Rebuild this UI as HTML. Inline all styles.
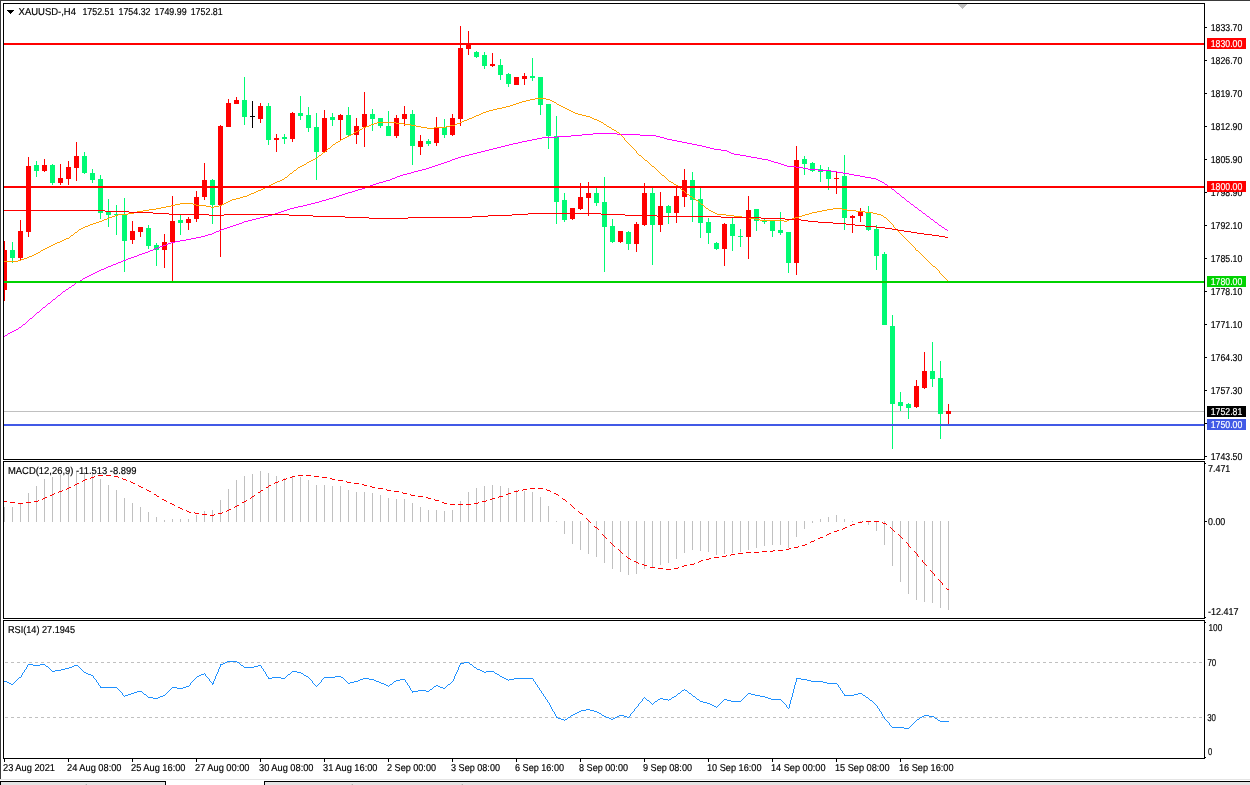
<!DOCTYPE html>
<html lang="en"><head><meta charset="utf-8"><title>XAUUSD-,H4</title>
<style>html,body{margin:0;padding:0;background:#fff;overflow:hidden}svg{display:block}text{font-family:"Liberation Sans",sans-serif;font-size:10px;fill:#000;text-rendering:geometricPrecision;stroke:#000;stroke-width:.18px}.w{stroke:#fff}.w{fill:#fff}.ce{shape-rendering:crispEdges}</style></head><body>
<svg width="1250" height="785" viewBox="0 0 1250 785">
<rect width="1250" height="785" fill="#fff"/>
<g class="ce">
<rect x="0" y="0" width="1250" height="1" fill="#3a3a3a"/>
<rect x="0" y="0" width="1" height="779" fill="#3a3a3a"/>
<rect x="0" y="779" width="1250" height="1" fill="#e4e4e4"/>
<rect x="0" y="780" width="1250" height="1" fill="#fff"/>
<rect x="0" y="781" width="1250" height="1" fill="#000"/>
<rect x="0" y="782" width="1250" height="3" fill="#e4e4e4"/>
<rect x="166" y="781" width="98" height="4" fill="#fff"/>
<rect x="165" y="781" width="1" height="4" fill="#000"/>
<rect x="264" y="781" width="1" height="4" fill="#000"/>
<rect x="0" y="781" width="1" height="4" fill="#000"/>
</g>
<defs><clipPath id="cm"><rect x="4" y="4" width="1200" height="455"/></clipPath><clipPath id="c98"><rect x="1205" y="192" width="45" height="10"/></clipPath></defs>
<g class="ce" clip-path="url(#cm)">
<rect x="4" y="411" width="1200" height="1" fill="#c0c0c0"/>
<rect x="4" y="241" width="1" height="60" fill="#ff0000"/>
<rect x="2" y="250" width="5" height="40" fill="#ff0000"/>
<rect x="12" y="242" width="1" height="21" fill="#00fa73"/>
<rect x="10" y="250" width="5" height="8" fill="#00fa73"/>
<rect x="20" y="220" width="1" height="40" fill="#ff0000"/>
<rect x="18" y="231" width="5" height="27" fill="#ff0000"/>
<rect x="28" y="157" width="1" height="80" fill="#ff0000"/>
<rect x="26" y="166" width="5" height="66" fill="#ff0000"/>
<rect x="36" y="161" width="1" height="16" fill="#00fa73"/>
<rect x="34" y="165" width="5" height="6" fill="#00fa73"/>
<rect x="44" y="159" width="1" height="13" fill="#ff0000"/>
<rect x="42" y="165" width="5" height="6" fill="#ff0000"/>
<rect x="52" y="164" width="1" height="21" fill="#00fa73"/>
<rect x="50" y="165" width="5" height="18" fill="#00fa73"/>
<rect x="60" y="164" width="1" height="21" fill="#ff0000"/>
<rect x="58" y="178" width="5" height="5" fill="#ff0000"/>
<rect x="68" y="161" width="1" height="24" fill="#ff0000"/>
<rect x="66" y="167" width="5" height="12" fill="#ff0000"/>
<rect x="76" y="142" width="1" height="39" fill="#ff0000"/>
<rect x="74" y="156" width="5" height="12" fill="#ff0000"/>
<rect x="84" y="152" width="1" height="22" fill="#00fa73"/>
<rect x="82" y="156" width="5" height="17" fill="#00fa73"/>
<rect x="92" y="169" width="1" height="14" fill="#00fa73"/>
<rect x="90" y="173" width="5" height="7" fill="#00fa73"/>
<rect x="100" y="175" width="1" height="44" fill="#00fa73"/>
<rect x="98" y="179" width="5" height="34" fill="#00fa73"/>
<rect x="108" y="199" width="1" height="28" fill="#00fa73"/>
<rect x="106" y="212" width="5" height="3" fill="#00fa73"/>
<rect x="116" y="205" width="1" height="30" fill="#00fa73"/>
<rect x="114" y="214" width="5" height="1" fill="#00fa73"/>
<rect x="124" y="198" width="1" height="74" fill="#00fa73"/>
<rect x="122" y="215" width="5" height="26" fill="#00fa73"/>
<rect x="132" y="221" width="1" height="23" fill="#ff0000"/>
<rect x="130" y="231" width="5" height="9" fill="#ff0000"/>
<rect x="140" y="227" width="1" height="10" fill="#ff0000"/>
<rect x="138" y="227" width="5" height="5" fill="#ff0000"/>
<rect x="148" y="225" width="1" height="24" fill="#00fa73"/>
<rect x="146" y="228" width="5" height="18" fill="#00fa73"/>
<rect x="156" y="243" width="1" height="23" fill="#00fa73"/>
<rect x="154" y="245" width="5" height="5" fill="#00fa73"/>
<rect x="164" y="234" width="1" height="34" fill="#ff0000"/>
<rect x="162" y="242" width="5" height="8" fill="#ff0000"/>
<rect x="172" y="196" width="1" height="85" fill="#ff0000"/>
<rect x="170" y="221" width="5" height="21" fill="#ff0000"/>
<rect x="180" y="215" width="1" height="20" fill="#00fa73"/>
<rect x="178" y="220" width="5" height="3" fill="#00fa73"/>
<rect x="188" y="217" width="1" height="13" fill="#ff0000"/>
<rect x="186" y="219" width="5" height="4" fill="#ff0000"/>
<rect x="196" y="191" width="1" height="31" fill="#ff0000"/>
<rect x="194" y="197" width="5" height="22" fill="#ff0000"/>
<rect x="204" y="163" width="1" height="37" fill="#ff0000"/>
<rect x="202" y="180" width="5" height="17" fill="#ff0000"/>
<rect x="212" y="179" width="1" height="45" fill="#00fa73"/>
<rect x="210" y="180" width="5" height="25" fill="#00fa73"/>
<rect x="220" y="125" width="1" height="132" fill="#ff0000"/>
<rect x="218" y="126" width="5" height="79" fill="#ff0000"/>
<rect x="228" y="99" width="1" height="28" fill="#ff0000"/>
<rect x="226" y="103" width="5" height="24" fill="#ff0000"/>
<rect x="236" y="97" width="1" height="7" fill="#ff0000"/>
<rect x="234" y="100" width="5" height="4" fill="#ff0000"/>
<rect x="244" y="77" width="1" height="48" fill="#00fa73"/>
<rect x="242" y="100" width="5" height="17" fill="#00fa73"/>
<rect x="252" y="101" width="1" height="27" fill="#000"/>
<rect x="250" y="116" width="5" height="1" fill="#000"/>
<rect x="260" y="103" width="1" height="20" fill="#ff0000"/>
<rect x="258" y="106" width="5" height="13" fill="#ff0000"/>
<rect x="268" y="103" width="1" height="42" fill="#00fa73"/>
<rect x="266" y="106" width="5" height="34" fill="#00fa73"/>
<rect x="276" y="134" width="1" height="18" fill="#ff0000"/>
<rect x="274" y="138" width="5" height="2" fill="#ff0000"/>
<rect x="284" y="134" width="1" height="10" fill="#00fa73"/>
<rect x="282" y="137" width="5" height="2" fill="#00fa73"/>
<rect x="292" y="112" width="1" height="30" fill="#ff0000"/>
<rect x="290" y="113" width="5" height="26" fill="#ff0000"/>
<rect x="300" y="96" width="1" height="24" fill="#00fa73"/>
<rect x="298" y="113" width="5" height="3" fill="#00fa73"/>
<rect x="308" y="107" width="1" height="25" fill="#00fa73"/>
<rect x="306" y="115" width="5" height="13" fill="#00fa73"/>
<rect x="316" y="113" width="1" height="67" fill="#00fa73"/>
<rect x="314" y="127" width="5" height="25" fill="#00fa73"/>
<rect x="324" y="110" width="1" height="42" fill="#ff0000"/>
<rect x="322" y="118" width="5" height="34" fill="#ff0000"/>
<rect x="332" y="113" width="1" height="13" fill="#00fa73"/>
<rect x="330" y="117" width="5" height="3" fill="#00fa73"/>
<rect x="340" y="114" width="1" height="26" fill="#ff0000"/>
<rect x="338" y="115" width="5" height="5" fill="#ff0000"/>
<rect x="348" y="107" width="1" height="29" fill="#00fa73"/>
<rect x="346" y="115" width="5" height="20" fill="#00fa73"/>
<rect x="356" y="118" width="1" height="26" fill="#ff0000"/>
<rect x="354" y="126" width="5" height="9" fill="#ff0000"/>
<rect x="364" y="92" width="1" height="55" fill="#ff0000"/>
<rect x="362" y="114" width="5" height="13" fill="#ff0000"/>
<rect x="372" y="109" width="1" height="22" fill="#00fa73"/>
<rect x="370" y="114" width="5" height="5" fill="#00fa73"/>
<rect x="380" y="118" width="1" height="10" fill="#00fa73"/>
<rect x="378" y="118" width="5" height="8" fill="#00fa73"/>
<rect x="388" y="111" width="1" height="25" fill="#00fa73"/>
<rect x="386" y="126" width="5" height="10" fill="#00fa73"/>
<rect x="396" y="115" width="1" height="23" fill="#ff0000"/>
<rect x="394" y="118" width="5" height="18" fill="#ff0000"/>
<rect x="404" y="106" width="1" height="20" fill="#ff0000"/>
<rect x="402" y="114" width="5" height="5" fill="#ff0000"/>
<rect x="412" y="110" width="1" height="55" fill="#00fa73"/>
<rect x="410" y="114" width="5" height="32" fill="#00fa73"/>
<rect x="420" y="135" width="1" height="20" fill="#ff0000"/>
<rect x="418" y="141" width="5" height="6" fill="#ff0000"/>
<rect x="428" y="139" width="1" height="7" fill="#00fa73"/>
<rect x="426" y="141" width="5" height="3" fill="#00fa73"/>
<rect x="436" y="117" width="1" height="29" fill="#ff0000"/>
<rect x="434" y="127" width="5" height="16" fill="#ff0000"/>
<rect x="444" y="119" width="1" height="19" fill="#00fa73"/>
<rect x="442" y="127" width="5" height="8" fill="#00fa73"/>
<rect x="452" y="114" width="1" height="22" fill="#ff0000"/>
<rect x="450" y="118" width="5" height="17" fill="#ff0000"/>
<rect x="460" y="26" width="1" height="100" fill="#ff0000"/>
<rect x="458" y="48" width="5" height="71" fill="#ff0000"/>
<rect x="468" y="31" width="1" height="24" fill="#ff0000"/>
<rect x="466" y="44" width="5" height="5" fill="#ff0000"/>
<rect x="476" y="51" width="1" height="7" fill="#00fa73"/>
<rect x="474" y="52" width="5" height="5" fill="#00fa73"/>
<rect x="484" y="52" width="1" height="17" fill="#00fa73"/>
<rect x="482" y="55" width="5" height="11" fill="#00fa73"/>
<rect x="492" y="53" width="1" height="14" fill="#ff0000"/>
<rect x="490" y="64" width="5" height="2" fill="#ff0000"/>
<rect x="500" y="59" width="1" height="21" fill="#00fa73"/>
<rect x="498" y="65" width="5" height="10" fill="#00fa73"/>
<rect x="508" y="73" width="1" height="14" fill="#00fa73"/>
<rect x="506" y="74" width="5" height="10" fill="#00fa73"/>
<rect x="516" y="77" width="1" height="8" fill="#ff0000"/>
<rect x="514" y="77" width="5" height="8" fill="#ff0000"/>
<rect x="524" y="73" width="1" height="12" fill="#ff0000"/>
<rect x="522" y="76" width="5" height="3" fill="#ff0000"/>
<rect x="532" y="58" width="1" height="23" fill="#00fa73"/>
<rect x="530" y="76" width="5" height="2" fill="#00fa73"/>
<rect x="540" y="77" width="1" height="38" fill="#00fa73"/>
<rect x="538" y="77" width="5" height="28" fill="#00fa73"/>
<rect x="548" y="104" width="1" height="45" fill="#00fa73"/>
<rect x="546" y="104" width="5" height="32" fill="#00fa73"/>
<rect x="556" y="116" width="1" height="108" fill="#00fa73"/>
<rect x="554" y="136" width="5" height="66" fill="#00fa73"/>
<rect x="564" y="193" width="1" height="29" fill="#00fa73"/>
<rect x="562" y="200" width="5" height="20" fill="#00fa73"/>
<rect x="572" y="208" width="1" height="12" fill="#ff0000"/>
<rect x="570" y="208" width="5" height="11" fill="#ff0000"/>
<rect x="580" y="183" width="1" height="27" fill="#ff0000"/>
<rect x="578" y="197" width="5" height="12" fill="#ff0000"/>
<rect x="588" y="182" width="1" height="34" fill="#ff0000"/>
<rect x="586" y="193" width="5" height="5" fill="#ff0000"/>
<rect x="596" y="188" width="1" height="18" fill="#00fa73"/>
<rect x="594" y="193" width="5" height="10" fill="#00fa73"/>
<rect x="604" y="177" width="1" height="95" fill="#00fa73"/>
<rect x="602" y="202" width="5" height="25" fill="#00fa73"/>
<rect x="612" y="219" width="1" height="24" fill="#00fa73"/>
<rect x="610" y="226" width="5" height="16" fill="#00fa73"/>
<rect x="620" y="231" width="1" height="12" fill="#ff0000"/>
<rect x="618" y="231" width="5" height="11" fill="#ff0000"/>
<rect x="628" y="231" width="1" height="19" fill="#00fa73"/>
<rect x="626" y="232" width="5" height="12" fill="#00fa73"/>
<rect x="636" y="222" width="1" height="30" fill="#ff0000"/>
<rect x="634" y="224" width="5" height="20" fill="#ff0000"/>
<rect x="644" y="183" width="1" height="43" fill="#ff0000"/>
<rect x="642" y="193" width="5" height="32" fill="#ff0000"/>
<rect x="652" y="188" width="1" height="77" fill="#00fa73"/>
<rect x="650" y="193" width="5" height="32" fill="#00fa73"/>
<rect x="660" y="192" width="1" height="40" fill="#ff0000"/>
<rect x="658" y="206" width="5" height="19" fill="#ff0000"/>
<rect x="668" y="205" width="1" height="19" fill="#00fa73"/>
<rect x="666" y="206" width="5" height="7" fill="#00fa73"/>
<rect x="676" y="186" width="1" height="37" fill="#ff0000"/>
<rect x="674" y="196" width="5" height="17" fill="#ff0000"/>
<rect x="684" y="169" width="1" height="38" fill="#ff0000"/>
<rect x="682" y="180" width="5" height="17" fill="#ff0000"/>
<rect x="692" y="172" width="1" height="50" fill="#00fa73"/>
<rect x="690" y="180" width="5" height="20" fill="#00fa73"/>
<rect x="700" y="188" width="1" height="50" fill="#00fa73"/>
<rect x="698" y="199" width="5" height="24" fill="#00fa73"/>
<rect x="708" y="218" width="1" height="26" fill="#00fa73"/>
<rect x="706" y="222" width="5" height="11" fill="#00fa73"/>
<rect x="716" y="242" width="1" height="8" fill="#00fa73"/>
<rect x="714" y="243" width="5" height="6" fill="#00fa73"/>
<rect x="724" y="223" width="1" height="43" fill="#ff0000"/>
<rect x="722" y="224" width="5" height="25" fill="#ff0000"/>
<rect x="732" y="218" width="1" height="33" fill="#00fa73"/>
<rect x="730" y="224" width="5" height="12" fill="#00fa73"/>
<rect x="740" y="229" width="1" height="18" fill="#00fa73"/>
<rect x="738" y="236" width="5" height="1" fill="#00fa73"/>
<rect x="748" y="196" width="1" height="63" fill="#ff0000"/>
<rect x="746" y="210" width="5" height="27" fill="#ff0000"/>
<rect x="756" y="209" width="1" height="22" fill="#00fa73"/>
<rect x="754" y="209" width="5" height="12" fill="#00fa73"/>
<rect x="764" y="218" width="1" height="6" fill="#00fa73"/>
<rect x="762" y="220" width="5" height="2" fill="#00fa73"/>
<rect x="772" y="220" width="1" height="17" fill="#00fa73"/>
<rect x="770" y="220" width="5" height="11" fill="#00fa73"/>
<rect x="780" y="212" width="1" height="23" fill="#00fa73"/>
<rect x="778" y="230" width="5" height="3" fill="#00fa73"/>
<rect x="788" y="232" width="1" height="41" fill="#00fa73"/>
<rect x="786" y="232" width="5" height="31" fill="#00fa73"/>
<rect x="796" y="146" width="1" height="129" fill="#ff0000"/>
<rect x="794" y="160" width="5" height="103" fill="#ff0000"/>
<rect x="804" y="156" width="1" height="19" fill="#00fa73"/>
<rect x="802" y="159" width="5" height="5" fill="#00fa73"/>
<rect x="812" y="162" width="1" height="10" fill="#00fa73"/>
<rect x="810" y="163" width="5" height="8" fill="#00fa73"/>
<rect x="820" y="165" width="1" height="17" fill="#00fa73"/>
<rect x="818" y="169" width="5" height="3" fill="#00fa73"/>
<rect x="828" y="167" width="1" height="23" fill="#00fa73"/>
<rect x="826" y="171" width="5" height="8" fill="#00fa73"/>
<rect x="836" y="172" width="1" height="22" fill="#ff0000"/>
<rect x="834" y="178" width="5" height="1" fill="#ff0000"/>
<rect x="844" y="155" width="1" height="75" fill="#00fa73"/>
<rect x="842" y="176" width="5" height="42" fill="#00fa73"/>
<rect x="852" y="215" width="1" height="18" fill="#ff0000"/>
<rect x="850" y="216" width="5" height="2" fill="#ff0000"/>
<rect x="860" y="208" width="1" height="14" fill="#ff0000"/>
<rect x="858" y="212" width="5" height="4" fill="#ff0000"/>
<rect x="868" y="206" width="1" height="25" fill="#00fa73"/>
<rect x="866" y="212" width="5" height="18" fill="#00fa73"/>
<rect x="876" y="225" width="1" height="45" fill="#00fa73"/>
<rect x="874" y="229" width="5" height="27" fill="#00fa73"/>
<rect x="884" y="252" width="1" height="73" fill="#00fa73"/>
<rect x="882" y="254" width="5" height="71" fill="#00fa73"/>
<rect x="892" y="315" width="1" height="134" fill="#00fa73"/>
<rect x="890" y="326" width="5" height="78" fill="#00fa73"/>
<rect x="900" y="392" width="1" height="19" fill="#00fa73"/>
<rect x="898" y="402" width="5" height="4" fill="#00fa73"/>
<rect x="908" y="403" width="1" height="16" fill="#00fa73"/>
<rect x="906" y="404" width="5" height="4" fill="#00fa73"/>
<rect x="916" y="380" width="1" height="28" fill="#ff0000"/>
<rect x="914" y="386" width="5" height="21" fill="#ff0000"/>
<rect x="924" y="352" width="1" height="37" fill="#ff0000"/>
<rect x="922" y="371" width="5" height="17" fill="#ff0000"/>
<rect x="932" y="342" width="1" height="45" fill="#00fa73"/>
<rect x="930" y="371" width="5" height="8" fill="#00fa73"/>
<rect x="940" y="361" width="1" height="78" fill="#00fa73"/>
<rect x="938" y="378" width="5" height="36" fill="#00fa73"/>
<rect x="948" y="404" width="1" height="20" fill="#ff0000"/>
<rect x="946" y="411" width="5" height="3" fill="#ff0000"/>
</g>
<g clip-path="url(#cm)" shape-rendering="crispEdges">
<path d="M4 336h1v1h-1zM5 335h2v1h-2zM7 334h1v1h-1zM8 333h2v1h-2zM10 332h2v1h-2zM12 331h2v1h-2zM14 330h2v1h-2zM16 329h2v1h-2zM18 328h1v1h-1zM19 327h2v1h-2zM21 326h1v1h-1zM22 325h1v1h-1zM23 324h2v1h-2zM25 323h1v1h-1zM26 322h1v1h-1zM27 321h1v1h-1zM28 320h1v1h-1zM29 319h1v1h-1zM30 318h2v1h-2zM32 317h1v1h-1zM33 316h1v1h-1zM34 315h1v1h-1zM35 314h1v1h-1zM36 313h1v1h-1zM37 312h2v1h-2zM39 311h1v1h-1zM40 310h1v1h-1zM41 309h1v1h-1zM42 308h1v1h-1zM43 307h2v1h-2zM45 306h1v1h-1zM46 305h1v1h-1zM47 304h1v1h-1zM48 303h2v1h-2zM50 302h1v1h-1zM51 301h1v1h-1zM52 300h1v1h-1zM53 299h2v1h-2zM55 298h1v1h-1zM56 297h1v1h-1zM57 296h1v1h-1zM58 295h2v1h-2zM60 294h1v1h-1zM61 293h1v1h-1zM62 292h1v1h-1zM63 291h2v1h-2zM65 290h1v1h-1zM66 289h2v1h-2zM68 288h1v1h-1zM69 287h2v1h-2zM71 286h1v1h-1zM72 285h2v1h-2zM74 284h1v1h-1zM75 283h1v1h-1zM76 282h2v1h-2zM78 281h2v1h-2zM80 280h2v1h-2zM82 279h1v1h-1zM83 278h2v1h-2zM85 277h2v1h-2zM87 276h2v1h-2zM89 275h2v1h-2zM91 274h2v1h-2zM93 273h2v1h-2zM95 272h2v1h-2zM97 271h2v1h-2zM99 270h2v1h-2zM101 269h3v1h-3zM104 268h2v1h-2zM106 267h2v1h-2zM108 266h3v1h-3zM111 265h2v1h-2zM113 264h3v1h-3zM116 263h2v1h-2zM118 262h3v1h-3zM121 261h2v1h-2zM123 260h3v1h-3zM126 259h2v1h-2zM128 258h3v1h-3zM131 257h3v1h-3zM134 256h3v1h-3zM137 255h2v1h-2zM139 254h3v1h-3zM142 253h3v1h-3zM145 252h3v1h-3zM148 251h2v1h-2zM150 250h3v1h-3zM153 249h2v1h-2zM155 248h3v1h-3zM158 247h2v1h-2zM160 246h3v1h-3zM163 245h3v1h-3zM166 244h2v1h-2zM168 243h3v1h-3zM171 242h4v1h-4zM175 241h5v1h-5zM180 240h6v1h-6zM186 239h5v1h-5zM191 238h5v1h-5zM196 237h5v1h-5zM201 236h4v1h-4zM205 235h3v1h-3zM208 234h4v1h-4zM212 233h2v1h-2zM214 232h2v1h-2zM216 231h3v1h-3zM219 230h2v1h-2zM221 229h3v1h-3zM224 228h3v1h-3zM227 227h3v1h-3zM230 226h3v1h-3zM233 225h3v1h-3zM236 224h3v1h-3zM239 223h3v1h-3zM242 222h2v1h-2zM244 221h4v1h-4zM248 220h4v1h-4zM252 219h4v1h-4zM256 218h4v1h-4zM260 217h4v1h-4zM264 216h4v1h-4zM268 215h4v1h-4zM272 214h3v1h-3zM275 213h3v1h-3zM278 212h3v1h-3zM281 211h3v1h-3zM284 210h3v1h-3zM287 209h3v1h-3zM290 208h4v1h-4zM294 207h4v1h-4zM298 206h5v1h-5zM303 205h4v1h-4zM307 204h4v1h-4zM311 203h4v1h-4zM315 202h4v1h-4zM319 201h3v1h-3zM322 200h4v1h-4zM326 199h3v1h-3zM329 198h4v1h-4zM333 197h3v1h-3zM336 196h3v1h-3zM339 195h3v1h-3zM342 194h3v1h-3zM345 193h3v1h-3zM348 192h4v1h-4zM352 191h3v1h-3zM355 190h3v1h-3zM358 189h4v1h-4zM362 188h3v1h-3zM365 187h3v1h-3zM368 186h2v1h-2zM370 185h3v1h-3zM373 184h3v1h-3zM376 183h3v1h-3zM379 182h4v1h-4zM383 181h3v1h-3zM386 180h4v1h-4zM390 179h2v1h-2zM392 178h3v1h-3zM395 177h2v1h-2zM397 176h3v1h-3zM400 175h3v1h-3zM403 174h4v1h-4zM407 173h4v1h-4zM411 172h3v1h-3zM414 171h4v1h-4zM418 170h4v1h-4zM422 169h4v1h-4zM426 168h3v1h-3zM429 167h3v1h-3zM432 166h3v1h-3zM435 165h3v1h-3zM438 164h3v1h-3zM441 163h3v1h-3zM444 162h3v1h-3zM447 161h3v1h-3zM450 160h2v1h-2zM452 159h3v1h-3zM455 158h3v1h-3zM458 157h3v1h-3zM461 156h4v1h-4zM465 155h4v1h-4zM469 154h4v1h-4zM473 153h4v1h-4zM477 152h4v1h-4zM481 151h4v1h-4zM485 150h4v1h-4zM489 149h4v1h-4zM493 148h4v1h-4zM497 147h4v1h-4zM501 146h4v1h-4zM505 145h4v1h-4zM509 144h4v1h-4zM513 143h5v1h-5zM518 142h4v1h-4zM522 141h5v1h-5zM527 140h5v1h-5zM532 139h5v1h-5zM537 138h5v1h-5zM542 137h15v1h-15zM557 136h14v1h-14zM571 135h11v1h-11zM582 134h11v1h-11zM593 133h24v1h-24zM617 134h23v1h-23zM640 135h16v1h-16zM656 136h4v1h-4zM660 137h4v1h-4zM664 138h3v1h-3zM667 139h5v1h-5zM672 140h5v1h-5zM677 141h5v1h-5zM682 142h5v1h-5zM687 143h5v1h-5zM692 144h5v1h-5zM697 145h5v1h-5zM702 146h4v1h-4zM706 147h4v1h-4zM710 148h4v1h-4zM714 149h7v1h-7zM721 150h6v1h-6zM727 151h2v1h-2zM729 152h2v1h-2zM731 153h3v1h-3zM734 154h6v1h-6zM740 155h6v1h-6zM746 156h5v1h-5zM751 157h6v1h-6zM757 158h5v1h-5zM762 159h6v1h-6zM768 160h3v1h-3zM771 161h3v1h-3zM774 162h4v1h-4zM778 163h3v1h-3zM781 164h3v1h-3zM784 165h3v1h-3zM787 166h9v1h-9zM796 167h7v1h-7zM803 168h5v1h-5zM808 169h10v1h-10zM818 170h13v1h-13zM831 171h6v1h-6zM837 172h6v1h-6zM843 173h6v1h-6zM849 174h5v1h-5zM854 175h6v1h-6zM860 176h5v1h-5zM865 177h6v1h-6zM871 178h5v1h-5zM876 179h2v1h-2zM878 180h2v1h-2zM880 181h2v1h-2zM882 182h2v1h-2zM884 183h1v1h-1zM885 184h2v1h-2zM887 185h1v1h-1zM888 186h2v1h-2zM890 187h1v1h-1zM891 188h1v1h-1zM892 189h2v1h-2zM894 190h1v1h-1zM895 191h1v1h-1zM896 192h1v1h-1zM897 193h2v1h-2zM899 194h1v1h-1zM900 195h1v1h-1zM901 196h1v1h-1zM902 197h2v1h-2zM904 198h1v1h-1zM905 199h1v1h-1zM906 200h1v1h-1zM907 201h2v1h-2zM909 202h1v1h-1zM910 203h1v1h-1zM911 204h2v1h-2zM913 205h1v1h-1zM914 206h1v1h-1zM915 207h2v1h-2zM917 208h1v1h-1zM918 209h1v1h-1zM919 210h2v1h-2zM921 211h1v1h-1zM922 212h1v1h-1zM923 213h2v1h-2zM925 214h1v1h-1zM926 215h1v1h-1zM927 216h2v1h-2zM929 217h1v1h-1zM930 218h1v1h-1zM931 219h2v1h-2zM933 220h1v1h-1zM934 221h1v1h-1zM935 222h2v1h-2zM937 223h1v1h-1zM938 224h1v1h-1zM939 225h2v1h-2zM941 226h1v1h-1zM942 227h2v1h-2zM944 228h1v1h-1zM945 229h2v1h-2zM947 230h1v1h-1z" fill="#ff00ff"/>
<path d="M4 261h14v1h-14zM18 260h3v1h-3zM21 259h3v1h-3zM24 258h3v1h-3zM27 257h2v1h-2zM29 256h3v1h-3zM32 255h2v1h-2zM34 254h2v1h-2zM36 253h2v1h-2zM38 252h2v1h-2zM40 251h1v1h-1zM41 250h2v1h-2zM43 249h2v1h-2zM45 248h2v1h-2zM47 247h2v1h-2zM49 246h2v1h-2zM51 245h2v1h-2zM53 244h2v1h-2zM55 243h2v1h-2zM57 242h3v1h-3zM60 241h2v1h-2zM62 240h2v1h-2zM64 239h2v1h-2zM66 238h3v1h-3zM69 237h1v1h-1zM70 236h1v1h-1zM71 235h2v1h-2zM73 234h1v1h-1zM74 233h1v1h-1zM75 232h2v1h-2zM77 231h1v1h-1zM78 230h1v1h-1zM79 229h2v1h-2zM81 228h2v1h-2zM83 227h2v1h-2zM85 226h3v1h-3zM88 225h2v1h-2zM90 224h3v1h-3zM93 223h3v1h-3zM96 222h3v1h-3zM99 221h3v1h-3zM102 220h2v1h-2zM104 219h3v1h-3zM107 218h2v1h-2zM109 217h3v1h-3zM112 216h3v1h-3zM115 215h3v1h-3zM118 214h10v1h-10zM128 213h6v1h-6zM134 212h3v1h-3zM137 211h6v1h-6zM143 210h6v1h-6zM149 209h7v1h-7zM156 208h5v1h-5zM161 207h5v1h-5zM166 206h5v1h-5zM171 205h4v1h-4zM175 204h5v1h-5zM180 203h13v1h-13zM193 204h3v1h-3zM196 205h10v1h-10zM206 206h5v1h-5zM211 207h3v1h-3zM214 206h5v1h-5zM219 205h3v1h-3zM222 204h2v1h-2zM224 203h2v1h-2zM226 202h2v1h-2zM228 201h2v1h-2zM230 200h2v1h-2zM232 199h4v1h-4zM236 198h4v1h-4zM240 197h3v1h-3zM243 196h4v1h-4zM247 195h2v1h-2zM249 194h2v1h-2zM251 193h3v1h-3zM254 192h2v1h-2zM256 191h2v1h-2zM258 190h3v1h-3zM261 189h2v1h-2zM263 188h2v1h-2zM265 187h2v1h-2zM267 186h2v1h-2zM269 185h2v1h-2zM271 184h2v1h-2zM273 183h2v1h-2zM275 182h2v1h-2zM277 181h3v1h-3zM280 180h2v1h-2zM282 179h2v1h-2zM284 178h1v1h-1zM285 177h2v1h-2zM287 176h1v1h-1zM288 175h1v1h-1zM289 174h1v1h-1zM290 173h2v1h-2zM292 172h1v1h-1zM293 171h1v1h-1zM294 170h2v1h-2zM296 169h1v1h-1zM297 168h1v1h-1zM298 167h2v1h-2zM300 166h2v1h-2zM302 165h2v1h-2zM304 164h2v1h-2zM306 163h1v1h-1zM307 162h2v1h-2zM309 161h2v1h-2zM311 160h2v1h-2zM313 159h2v1h-2zM315 158h2v1h-2zM317 157h1v1h-1zM318 156h1v1h-1zM319 155h2v1h-2zM321 154h1v1h-1zM322 153h1v1h-1zM323 152h2v1h-2zM325 151h1v1h-1zM326 150h1v1h-1zM327 149h1v1h-1zM328 148h2v1h-2zM330 147h1v1h-1zM331 146h1v1h-1zM332 145h1v1h-1zM333 144h2v1h-2zM335 143h1v1h-1zM336 142h2v1h-2zM338 141h2v1h-2zM340 140h1v1h-1zM341 139h2v1h-2zM343 138h2v1h-2zM345 137h2v1h-2zM347 136h2v1h-2zM349 135h2v1h-2zM351 134h2v1h-2zM353 133h1v1h-1zM354 132h2v1h-2zM356 131h2v1h-2zM358 130h2v1h-2zM360 129h2v1h-2zM362 128h1v1h-1zM363 127h3v1h-3zM366 126h3v1h-3zM369 125h2v1h-2zM371 124h3v1h-3zM374 123h3v1h-3zM377 122h19v1h-19zM396 123h8v1h-8zM404 124h7v1h-7zM411 125h5v1h-5zM416 126h5v1h-5zM421 127h6v1h-6zM427 128h7v1h-7zM434 127h12v1h-12zM446 126h4v1h-4zM450 125h5v1h-5zM455 124h2v1h-2zM457 123h3v1h-3zM460 122h2v1h-2zM462 121h2v1h-2zM464 120h3v1h-3zM467 119h2v1h-2zM469 118h3v1h-3zM472 117h2v1h-2zM474 116h2v1h-2zM476 115h3v1h-3zM479 114h2v1h-2zM481 113h2v1h-2zM483 112h3v1h-3zM486 111h3v1h-3zM489 110h4v1h-4zM493 109h4v1h-4zM497 108h5v1h-5zM502 107h4v1h-4zM506 106h4v1h-4zM510 105h3v1h-3zM513 104h3v1h-3zM516 103h3v1h-3zM519 102h3v1h-3zM522 101h4v1h-4zM526 100h4v1h-4zM530 99h5v1h-5zM535 98h11v1h-11zM546 99h4v1h-4zM550 100h2v1h-2zM552 101h2v1h-2zM554 102h2v1h-2zM556 103h1v1h-1zM557 104h2v1h-2zM559 105h2v1h-2zM561 106h2v1h-2zM563 107h2v1h-2zM565 108h2v1h-2zM567 109h2v1h-2zM569 110h2v1h-2zM571 111h2v1h-2zM573 112h2v1h-2zM575 113h3v1h-3zM578 114h4v1h-4zM582 115h4v1h-4zM586 116h4v1h-4zM590 117h2v1h-2zM592 118h2v1h-2zM594 119h3v1h-3zM597 120h2v1h-2zM599 121h2v1h-2zM601 122h2v1h-2zM603 123h1v1h-1zM604 124h2v1h-2zM606 125h1v1h-1zM607 126h2v1h-2zM609 127h2v1h-2zM611 128h1v1h-1zM612 129h2v1h-2zM614 130h2v1h-2zM616 131h1v1h-1zM617 132h2v1h-2zM619 133h1v1h-1zM620 134h1v1h-1zM621 135h1v1h-1zM622 136h1v1h-1zM623 137h1v1h-1zM624 138h1v2h-1zM625 140h1v1h-1zM626 141h1v1h-1zM627 142h1v1h-1zM628 143h1v1h-1zM629 144h1v1h-1zM630 145h1v1h-1zM631 146h1v1h-1zM632 147h1v1h-1zM633 148h1v1h-1zM634 149h1v1h-1zM635 150h1v1h-1zM636 151h1v2h-1zM637 153h1v1h-1zM638 154h1v1h-1zM639 155h2v1h-2zM641 156h1v1h-1zM642 157h1v1h-1zM643 158h1v1h-1zM644 159h1v1h-1zM645 160h2v1h-2zM647 161h1v1h-1zM648 162h1v1h-1zM649 163h1v1h-1zM650 164h1v1h-1zM651 165h1v1h-1zM652 166h2v1h-2zM654 167h1v1h-1zM655 168h1v1h-1zM656 169h1v1h-1zM657 170h1v1h-1zM658 171h1v1h-1zM659 172h1v1h-1zM660 173h1v1h-1zM661 174h1v1h-1zM662 175h2v1h-2zM664 176h1v1h-1zM665 177h1v1h-1zM666 178h1v1h-1zM667 179h1v1h-1zM668 180h1v1h-1zM669 181h2v1h-2zM671 182h2v1h-2zM673 183h1v1h-1zM674 184h2v1h-2zM676 185h2v1h-2zM678 186h1v1h-1zM679 187h1v1h-1zM680 188h1v1h-1zM681 189h1v1h-1zM682 190h2v1h-2zM684 191h1v1h-1zM685 192h1v1h-1zM686 193h1v1h-1zM687 194h2v1h-2zM689 195h1v1h-1zM690 196h2v1h-2zM692 197h1v1h-1zM693 198h2v1h-2zM695 199h1v1h-1zM696 200h2v1h-2zM698 201h1v1h-1zM699 202h1v1h-1zM700 203h1v1h-1zM701 204h2v1h-2zM703 205h1v1h-1zM704 206h1v1h-1zM705 207h1v1h-1zM706 208h2v1h-2zM708 209h1v1h-1zM709 210h2v1h-2zM711 211h2v1h-2zM713 212h2v1h-2zM715 213h2v1h-2zM717 214h9v1h-9zM726 215h8v1h-8zM734 216h8v1h-8zM742 217h7v1h-7zM749 218h6v1h-6zM755 219h5v1h-5zM760 220h24v1h-24zM784 221h3v1h-3zM787 220h2v1h-2zM789 219h3v1h-3zM792 218h3v1h-3zM795 217h4v1h-4zM799 216h3v1h-3zM802 215h3v1h-3zM805 214h4v1h-4zM809 213h3v1h-3zM812 212h5v1h-5zM817 211h5v1h-5zM822 210h5v1h-5zM827 209h6v1h-6zM833 208h9v1h-9zM842 209h5v1h-5zM847 210h9v1h-9zM856 211h9v1h-9zM865 212h8v1h-8zM873 213h4v1h-4zM877 214h4v1h-4zM881 215h2v1h-2zM883 216h1v1h-1zM884 217h2v1h-2zM886 218h1v1h-1zM887 219h1v1h-1zM888 220h1v1h-1zM889 221h1v1h-1zM890 222h1v1h-1zM891 223h1v1h-1zM892 224h1v1h-1zM893 225h1v2h-1zM894 227h1v1h-1zM895 228h1v1h-1zM896 229h1v1h-1zM897 230h1v1h-1zM898 231h1v1h-1zM899 232h1v1h-1zM900 233h1v1h-1zM901 234h1v1h-1zM902 235h1v1h-1zM903 236h1v1h-1zM904 237h1v1h-1zM905 238h1v1h-1zM906 239h1v1h-1zM907 240h1v1h-1zM908 241h1v1h-1zM909 242h1v1h-1zM910 243h1v1h-1zM911 244h1v1h-1zM912 245h1v1h-1zM913 246h1v1h-1zM914 247h1v1h-1zM915 248h1v2h-1zM916 250h2v1h-2zM918 251h1v1h-1zM919 252h1v1h-1zM920 253h1v1h-1zM921 254h1v1h-1zM922 255h1v1h-1zM923 256h1v1h-1zM924 257h1v1h-1zM925 258h1v1h-1zM926 259h1v1h-1zM927 260h1v1h-1zM928 261h1v1h-1zM929 262h1v1h-1zM930 263h1v1h-1zM931 264h1v1h-1zM932 265h1v1h-1zM933 266h2v1h-2zM935 267h1v1h-1zM936 268h1v1h-1zM937 269h1v1h-1zM938 270h1v1h-1zM939 271h1v2h-1zM940 273h1v1h-1zM941 274h1v1h-1zM942 275h1v1h-1zM943 276h1v1h-1zM944 277h1v1h-1zM945 278h1v1h-1zM946 279h1v1h-1zM947 280h1v1h-1z" fill="#ffa000"/>
<rect x="4" y="210" width="101" height="1" fill="#ff0000"/>
<rect x="105" y="211" width="24" height="1" fill="#ff0000"/>
<rect x="129" y="212" width="24" height="1" fill="#ff0000"/>
<rect x="153" y="213" width="16" height="1" fill="#ff0000"/>
<rect x="169" y="214" width="40" height="1" fill="#ff0000"/>
<rect x="209" y="215" width="15" height="1" fill="#ff0000"/>
<rect x="224" y="214" width="65" height="1" fill="#ff0000"/>
<rect x="289" y="215" width="24" height="1" fill="#ff0000"/>
<rect x="313" y="216" width="32" height="1" fill="#ff0000"/>
<rect x="345" y="217" width="24" height="1" fill="#ff0000"/>
<rect x="369" y="218" width="39" height="1" fill="#ff0000"/>
<rect x="408" y="217" width="64" height="1" fill="#ff0000"/>
<rect x="472" y="216" width="16" height="1" fill="#ff0000"/>
<rect x="488" y="215" width="24" height="1" fill="#ff0000"/>
<rect x="512" y="214" width="16" height="1" fill="#ff0000"/>
<rect x="528" y="213" width="73" height="1" fill="#ff0000"/>
<rect x="601" y="214" width="24" height="1" fill="#ff0000"/>
<rect x="625" y="215" width="32" height="1" fill="#ff0000"/>
<rect x="657" y="216" width="64" height="1" fill="#ff0000"/>
<rect x="721" y="217" width="40" height="1" fill="#ff0000"/>
<rect x="761" y="218" width="24" height="1" fill="#ff0000"/>
<rect x="785" y="219" width="16" height="1" fill="#ff0000"/>
<path d="M801 220h7v1h-7zM808 221h10v1h-10zM818 222h15v1h-15zM833 223h13v1h-13zM846 224h9v1h-9zM855 225h10v1h-10zM865 226h11v1h-11zM876 227h9v1h-9zM885 228h7v1h-7zM892 229h6v1h-6zM898 230h6v1h-6zM904 231h7v1h-7zM911 232h6v1h-6zM917 233h7v1h-7zM924 234h8v1h-8zM932 235h7v1h-7zM939 236h6v1h-6zM945 237h3v1h-3z" fill="#ff0000"/>
<rect x="4" y="43" width="1200" height="2" fill="#ff0000"/>
<rect x="4" y="186" width="1200" height="2" fill="#ff0000"/>
<rect x="4" y="281" width="1200" height="2" fill="#00d200"/>
<rect x="4" y="424" width="1200" height="2" fill="#4159e6"/>
</g>
<g class="ce">
<rect x="4" y="507" width="1" height="15" fill="#c0c0c0"/>
<rect x="12" y="507" width="1" height="15" fill="#c0c0c0"/>
<rect x="20" y="504" width="1" height="18" fill="#c0c0c0"/>
<rect x="28" y="493" width="1" height="29" fill="#c0c0c0"/>
<rect x="36" y="486" width="1" height="36" fill="#c0c0c0"/>
<rect x="44" y="479" width="1" height="43" fill="#c0c0c0"/>
<rect x="52" y="477" width="1" height="45" fill="#c0c0c0"/>
<rect x="60" y="475" width="1" height="47" fill="#c0c0c0"/>
<rect x="68" y="474" width="1" height="48" fill="#c0c0c0"/>
<rect x="76" y="472" width="1" height="50" fill="#c0c0c0"/>
<rect x="84" y="472" width="1" height="50" fill="#c0c0c0"/>
<rect x="92" y="474" width="1" height="48" fill="#c0c0c0"/>
<rect x="100" y="479" width="1" height="43" fill="#c0c0c0"/>
<rect x="108" y="485" width="1" height="37" fill="#c0c0c0"/>
<rect x="116" y="490" width="1" height="32" fill="#c0c0c0"/>
<rect x="124" y="498" width="1" height="24" fill="#c0c0c0"/>
<rect x="132" y="503" width="1" height="19" fill="#c0c0c0"/>
<rect x="140" y="507" width="1" height="15" fill="#c0c0c0"/>
<rect x="148" y="512" width="1" height="10" fill="#c0c0c0"/>
<rect x="156" y="517" width="1" height="5" fill="#c0c0c0"/>
<rect x="164" y="520" width="1" height="2" fill="#c0c0c0"/>
<rect x="172" y="519" width="1" height="3" fill="#c0c0c0"/>
<rect x="180" y="519" width="1" height="3" fill="#c0c0c0"/>
<rect x="188" y="519" width="1" height="3" fill="#c0c0c0"/>
<rect x="196" y="515" width="1" height="7" fill="#c0c0c0"/>
<rect x="204" y="511" width="1" height="11" fill="#c0c0c0"/>
<rect x="212" y="510" width="1" height="12" fill="#c0c0c0"/>
<rect x="220" y="500" width="1" height="22" fill="#c0c0c0"/>
<rect x="228" y="489" width="1" height="33" fill="#c0c0c0"/>
<rect x="236" y="480" width="1" height="42" fill="#c0c0c0"/>
<rect x="244" y="476" width="1" height="46" fill="#c0c0c0"/>
<rect x="252" y="474" width="1" height="48" fill="#c0c0c0"/>
<rect x="260" y="471" width="1" height="51" fill="#c0c0c0"/>
<rect x="268" y="473" width="1" height="49" fill="#c0c0c0"/>
<rect x="276" y="476" width="1" height="46" fill="#c0c0c0"/>
<rect x="284" y="478" width="1" height="44" fill="#c0c0c0"/>
<rect x="292" y="477" width="1" height="45" fill="#c0c0c0"/>
<rect x="300" y="477" width="1" height="45" fill="#c0c0c0"/>
<rect x="308" y="480" width="1" height="42" fill="#c0c0c0"/>
<rect x="316" y="485" width="1" height="37" fill="#c0c0c0"/>
<rect x="324" y="485" width="1" height="37" fill="#c0c0c0"/>
<rect x="332" y="486" width="1" height="36" fill="#c0c0c0"/>
<rect x="340" y="486" width="1" height="36" fill="#c0c0c0"/>
<rect x="348" y="490" width="1" height="32" fill="#c0c0c0"/>
<rect x="356" y="492" width="1" height="30" fill="#c0c0c0"/>
<rect x="364" y="492" width="1" height="30" fill="#c0c0c0"/>
<rect x="372" y="493" width="1" height="29" fill="#c0c0c0"/>
<rect x="380" y="495" width="1" height="27" fill="#c0c0c0"/>
<rect x="388" y="498" width="1" height="24" fill="#c0c0c0"/>
<rect x="396" y="499" width="1" height="23" fill="#c0c0c0"/>
<rect x="404" y="499" width="1" height="23" fill="#c0c0c0"/>
<rect x="412" y="503" width="1" height="19" fill="#c0c0c0"/>
<rect x="420" y="507" width="1" height="15" fill="#c0c0c0"/>
<rect x="428" y="510" width="1" height="12" fill="#c0c0c0"/>
<rect x="436" y="510" width="1" height="12" fill="#c0c0c0"/>
<rect x="444" y="511" width="1" height="11" fill="#c0c0c0"/>
<rect x="452" y="510" width="1" height="12" fill="#c0c0c0"/>
<rect x="460" y="501" width="1" height="21" fill="#c0c0c0"/>
<rect x="468" y="492" width="1" height="30" fill="#c0c0c0"/>
<rect x="476" y="488" width="1" height="34" fill="#c0c0c0"/>
<rect x="484" y="486" width="1" height="36" fill="#c0c0c0"/>
<rect x="492" y="485" width="1" height="37" fill="#c0c0c0"/>
<rect x="500" y="486" width="1" height="36" fill="#c0c0c0"/>
<rect x="508" y="488" width="1" height="34" fill="#c0c0c0"/>
<rect x="516" y="490" width="1" height="32" fill="#c0c0c0"/>
<rect x="524" y="491" width="1" height="31" fill="#c0c0c0"/>
<rect x="532" y="492" width="1" height="30" fill="#c0c0c0"/>
<rect x="540" y="497" width="1" height="25" fill="#c0c0c0"/>
<rect x="548" y="506" width="1" height="16" fill="#c0c0c0"/>
<rect x="556" y="521" width="1" height="1" fill="#c0c0c0"/>
<rect x="564" y="521" width="1" height="13" fill="#c0c0c0"/>
<rect x="572" y="521" width="1" height="23" fill="#c0c0c0"/>
<rect x="580" y="521" width="1" height="29" fill="#c0c0c0"/>
<rect x="588" y="521" width="1" height="33" fill="#c0c0c0"/>
<rect x="596" y="521" width="1" height="36" fill="#c0c0c0"/>
<rect x="604" y="521" width="1" height="42" fill="#c0c0c0"/>
<rect x="612" y="521" width="1" height="48" fill="#c0c0c0"/>
<rect x="620" y="521" width="1" height="51" fill="#c0c0c0"/>
<rect x="628" y="521" width="1" height="54" fill="#c0c0c0"/>
<rect x="636" y="521" width="1" height="53" fill="#c0c0c0"/>
<rect x="644" y="521" width="1" height="48" fill="#c0c0c0"/>
<rect x="652" y="521" width="1" height="47" fill="#c0c0c0"/>
<rect x="660" y="521" width="1" height="44" fill="#c0c0c0"/>
<rect x="668" y="521" width="1" height="42" fill="#c0c0c0"/>
<rect x="676" y="521" width="1" height="38" fill="#c0c0c0"/>
<rect x="684" y="521" width="1" height="32" fill="#c0c0c0"/>
<rect x="692" y="521" width="1" height="29" fill="#c0c0c0"/>
<rect x="700" y="521" width="1" height="30" fill="#c0c0c0"/>
<rect x="708" y="521" width="1" height="31" fill="#c0c0c0"/>
<rect x="716" y="521" width="1" height="34" fill="#c0c0c0"/>
<rect x="724" y="521" width="1" height="33" fill="#c0c0c0"/>
<rect x="732" y="521" width="1" height="32" fill="#c0c0c0"/>
<rect x="740" y="521" width="1" height="31" fill="#c0c0c0"/>
<rect x="748" y="521" width="1" height="29" fill="#c0c0c0"/>
<rect x="756" y="521" width="1" height="27" fill="#c0c0c0"/>
<rect x="764" y="521" width="1" height="25" fill="#c0c0c0"/>
<rect x="772" y="521" width="1" height="24" fill="#c0c0c0"/>
<rect x="780" y="521" width="1" height="24" fill="#c0c0c0"/>
<rect x="788" y="521" width="1" height="27" fill="#c0c0c0"/>
<rect x="796" y="521" width="1" height="16" fill="#c0c0c0"/>
<rect x="804" y="521" width="1" height="8" fill="#c0c0c0"/>
<rect x="812" y="521" width="1" height="2" fill="#c0c0c0"/>
<rect x="820" y="519" width="1" height="3" fill="#c0c0c0"/>
<rect x="828" y="517" width="1" height="5" fill="#c0c0c0"/>
<rect x="836" y="515" width="1" height="7" fill="#c0c0c0"/>
<rect x="844" y="519" width="1" height="3" fill="#c0c0c0"/>
<rect x="852" y="521" width="1" height="1" fill="#c0c0c0"/>
<rect x="860" y="521" width="1" height="1" fill="#c0c0c0"/>
<rect x="868" y="521" width="1" height="4" fill="#c0c0c0"/>
<rect x="876" y="521" width="1" height="10" fill="#c0c0c0"/>
<rect x="884" y="521" width="1" height="24" fill="#c0c0c0"/>
<rect x="892" y="521" width="1" height="45" fill="#c0c0c0"/>
<rect x="900" y="521" width="1" height="61" fill="#c0c0c0"/>
<rect x="908" y="521" width="1" height="73" fill="#c0c0c0"/>
<rect x="916" y="521" width="1" height="79" fill="#c0c0c0"/>
<rect x="924" y="521" width="1" height="81" fill="#c0c0c0"/>
<rect x="932" y="521" width="1" height="82" fill="#c0c0c0"/>
<rect x="940" y="521" width="1" height="87" fill="#c0c0c0"/>
<rect x="948" y="521" width="1" height="89" fill="#c0c0c0"/>
</g>
<g class="ce">
<path d="M4 501h3v1h-3zM10 502h5v1h-5zM18 503h5v1h-5zM26 502h5v1h-5zM34 501h4v1h-4zM38 500h1v1h-1zM42 499h1v1h-1zM43 498h2v1h-2zM45 497h2v1h-2zM50 495h2v1h-2zM52 494h2v1h-2zM54 493h1v1h-1zM58 492h1v1h-1zM59 491h3v1h-3zM62 490h1v1h-1zM66 489h1v1h-1zM67 488h2v1h-2zM69 487h2v1h-2zM74 485h1v1h-1zM75 484h2v1h-2zM77 483h2v1h-2zM82 481h1v1h-1zM83 480h2v1h-2zM85 479h2v1h-2zM90 478h1v1h-1zM91 477h3v1h-3zM94 476h1v1h-1zM98 475h5v1h-5zM106 475h5v1h-5zM114 476h4v1h-4zM118 477h1v1h-1zM122 478h1v1h-1zM123 479h3v1h-3zM126 480h1v1h-1zM130 481h1v1h-1zM131 482h2v1h-2zM133 483h2v1h-2zM138 485h1v1h-1zM139 486h2v1h-2zM141 487h2v1h-2zM146 489h1v1h-1zM147 490h2v1h-2zM149 491h2v1h-2zM154 494h2v1h-2zM156 495h1v1h-1zM157 496h2v1h-2zM162 499h2v1h-2zM164 500h2v1h-2zM166 501h1v1h-1zM170 503h2v1h-2zM172 504h2v1h-2zM174 505h1v1h-1zM178 507h2v1h-2zM180 508h2v1h-2zM182 509h1v1h-1zM186 510h1v1h-1zM187 511h2v1h-2zM189 512h2v1h-2zM194 512h1v1h-1zM195 513h4v1h-4zM202 514h5v1h-5zM210 515h4v1h-4zM214 514h1v1h-1zM218 513h4v1h-4zM222 512h1v1h-1zM226 511h1v1h-1zM227 510h2v1h-2zM229 509h2v1h-2zM234 507h1v1h-1zM235 506h2v1h-2zM237 505h2v1h-2zM242 502h2v1h-2zM244 501h2v1h-2zM246 500h1v1h-1zM250 498h1v1h-1zM251 497h1v1h-1zM252 496h2v1h-2zM254 495h1v1h-1zM258 492h2v1h-2zM260 491h1v1h-1zM261 490h2v1h-2zM266 487h2v1h-2zM268 486h1v1h-1zM269 485h2v1h-2zM274 483h1v1h-1zM275 482h3v1h-3zM278 481h1v1h-1zM282 480h1v1h-1zM283 479h3v1h-3zM286 478h1v1h-1zM290 477h2v1h-2zM292 476h3v1h-3zM298 475h5v1h-5zM306 475h5v1h-5zM314 476h5v1h-5zM322 477h5v1h-5zM330 478h2v1h-2zM332 479h3v1h-3zM338 480h5v1h-5zM346 481h1v1h-1zM347 482h4v1h-4zM354 483h5v1h-5zM362 484h2v1h-2zM364 485h3v1h-3zM370 486h2v1h-2zM372 487h3v1h-3zM378 488h5v1h-5zM386 489h1v1h-1zM387 490h4v1h-4zM394 491h5v1h-5zM402 492h1v1h-1zM403 493h4v1h-4zM410 494h1v1h-1zM411 495h4v1h-4zM418 496h5v1h-5zM426 497h2v1h-2zM428 498h3v1h-3zM434 499h1v1h-1zM435 500h4v1h-4zM442 502h2v1h-2zM444 503h3v1h-3zM450 504h5v1h-5zM458 504h5v1h-5zM466 504h5v1h-5zM474 503h4v1h-4zM478 502h1v1h-1zM482 501h4v1h-4zM486 500h1v1h-1zM490 499h2v1h-2zM492 498h3v1h-3zM498 497h1v1h-1zM499 496h4v1h-4zM506 494h2v1h-2zM508 493h3v1h-3zM514 491h4v1h-4zM518 490h1v1h-1zM522 490h1v1h-1zM523 489h4v1h-4zM530 488h5v1h-5zM538 488h5v1h-5zM546 489h1v1h-1zM547 490h3v1h-3zM550 491h1v1h-1zM554 493h2v1h-2zM556 494h2v1h-2zM558 495h1v1h-1zM562 498h1v1h-1zM563 499h2v1h-2zM565 500h1v1h-1zM566 501h1v1h-1zM570 504h1v1h-1zM571 505h1v1h-1zM572 506h1v1h-1zM573 507h1v1h-1zM574 508h1v1h-1zM578 511h1v1h-1zM579 512h1v1h-1zM580 513h2v1h-2zM582 514h1v1h-1zM586 518h1v1h-1zM587 519h1v1h-1zM588 520h1v1h-1zM589 521h1v1h-1zM590 522h1v1h-1zM594 526h1v1h-1zM595 527h2v1h-2zM597 528h1v1h-1zM598 529h1v1h-1zM602 534h1v1h-1zM603 535h1v1h-1zM604 536h1v1h-1zM605 537h1v1h-1zM606 538h1v1h-1zM610 542h1v1h-1zM611 543h1v1h-1zM612 544h1v1h-1zM613 545h1v1h-1zM614 546h1v1h-1zM618 549h1v1h-1zM619 550h1v1h-1zM620 551h1v1h-1zM621 552h1v1h-1zM622 553h1v1h-1zM626 556h1v1h-1zM627 557h1v1h-1zM628 558h2v1h-2zM630 559h1v1h-1zM634 561h2v1h-2zM636 562h2v1h-2zM638 563h1v1h-1zM642 564h2v1h-2zM644 565h3v1h-3zM650 567h5v1h-5zM658 568h5v1h-5zM666 569h5v1h-5zM674 568h4v1h-4zM678 567h1v1h-1zM682 566h2v1h-2zM684 565h3v1h-3zM690 564h4v1h-4zM694 563h1v1h-1zM698 562h1v1h-1zM699 561h2v1h-2zM701 560h2v1h-2zM706 559h3v1h-3zM709 558h2v1h-2zM714 557h5v1h-5zM722 556h4v1h-4zM726 555h1v1h-1zM730 555h1v1h-1zM731 554h4v1h-4zM738 553h5v1h-5zM746 552h5v1h-5zM754 552h5v1h-5zM762 551h5v1h-5zM770 551h3v1h-3zM773 550h2v1h-2zM778 550h5v1h-5zM786 549h3v1h-3zM789 548h2v1h-2zM794 547h4v1h-4zM798 546h1v1h-1zM802 545h3v1h-3zM805 544h2v1h-2zM810 542h1v1h-1zM811 541h3v1h-3zM814 540h1v1h-1zM818 538h2v1h-2zM820 537h3v1h-3zM826 535h1v1h-1zM827 534h2v1h-2zM829 533h2v1h-2zM834 531h3v1h-3zM837 530h2v1h-2zM842 529h1v1h-1zM843 528h2v1h-2zM845 527h2v1h-2zM850 525h2v1h-2zM852 524h3v1h-3zM858 522h4v1h-4zM862 521h1v1h-1zM866 521h5v1h-5zM874 521h5v1h-5zM882 522h1v1h-1zM883 523h3v1h-3zM886 524h1v1h-1zM890 527h1v1h-1zM891 528h1v1h-1zM892 529h1v1h-1zM893 530h1v1h-1zM894 531h1v1h-1zM898 534h1v1h-1zM899 535h1v1h-1zM900 536h1v1h-1zM901 537h1v1h-1zM902 538h1v1h-1zM906 542h1v1h-1zM907 543h1v1h-1zM908 544h1v2h-1zM909 546h1v1h-1zM910 547h1v1h-1zM914 551h1v1h-1zM915 552h1v1h-1zM916 553h1v1h-1zM917 554h1v2h-1zM918 556h1v1h-1zM922 560h1v2h-1zM923 562h1v1h-1zM924 563h1v1h-1zM925 564h1v1h-1zM926 565h1v1h-1zM930 570h1v1h-1zM931 571h1v1h-1zM932 572h1v1h-1zM933 573h1v1h-1zM934 574h1v2h-1zM938 579h1v1h-1zM939 580h1v1h-1zM940 581h1v1h-1zM941 582h1v1h-1zM942 583h1v2h-1zM946 588h1v1h-1zM947 589h2v1h-2z" fill="#ff0000"/>
</g>
<g class="ce">
<line x1="5" y1="662.5" x2="1204" y2="662.5" stroke="#c0c0c0" stroke-width="1" stroke-dasharray="3 3"/>
<line x1="5" y1="717.5" x2="1204" y2="717.5" stroke="#c0c0c0" stroke-width="1" stroke-dasharray="3 3"/>
</g>
<g class="ce">
<path d="M4 681h3v1h-3zM7 682h2v1h-2zM9 683h2v1h-2zM11 684h2v1h-2zM13 683h1v1h-1zM14 682h1v1h-1zM15 681h1v1h-1zM16 680h1v1h-1zM17 679h1v1h-1zM18 678h1v1h-1zM19 677h2v1h-2zM21 675h1v2h-1zM22 673h1v2h-1zM23 672h1v1h-1zM24 670h1v2h-1zM25 669h1v1h-1zM26 667h1v2h-1zM27 665h1v2h-1zM28 664h5v1h-5zM33 665h7v1h-7zM40 664h5v1h-5zM45 665h1v1h-1zM46 666h2v1h-2zM48 667h1v1h-1zM49 668h1v1h-1zM50 669h1v1h-1zM51 670h1v1h-1zM52 671h3v1h-3zM55 670h6v1h-6zM61 669h4v1h-4zM65 668h4v1h-4zM69 667h3v1h-3zM72 666h2v1h-2zM74 665h4v1h-4zM78 666h1v1h-1zM79 667h1v1h-1zM80 668h1v1h-1zM81 669h1v1h-1zM82 670h1v1h-1zM83 671h1v1h-1zM84 672h2v1h-2zM86 673h2v1h-2zM88 674h3v1h-3zM91 675h2v1h-2zM93 676h1v2h-1zM94 678h1v1h-1zM95 679h1v1h-1zM96 680h1v2h-1zM97 682h1v1h-1zM98 683h1v2h-1zM99 685h1v1h-1zM100 686h1v2h-1zM101 687h16v1h-16zM117 688h1v1h-1zM118 689h1v1h-1zM119 690h1v1h-1zM120 691h1v1h-1zM121 692h1v1h-1zM122 693h1v2h-1zM123 695h1v1h-1zM124 696h1v1h-1zM125 695h3v1h-3zM128 694h3v1h-3zM131 693h3v1h-3zM134 692h3v1h-3zM137 691h5v1h-5zM142 692h1v1h-1zM143 693h1v1h-1zM144 694h2v1h-2zM146 695h1v1h-1zM147 696h1v1h-1zM148 697h5v1h-5zM153 698h5v1h-5zM158 697h2v1h-2zM160 696h3v1h-3zM163 695h2v1h-2zM165 694h1v1h-1zM166 693h1v1h-1zM167 692h1v1h-1zM168 691h1v1h-1zM169 690h1v1h-1zM170 689h1v1h-1zM171 688h1v1h-1zM172 687h5v1h-5zM177 688h6v1h-6zM183 687h3v1h-3zM186 686h3v1h-3zM189 685h1v1h-1zM190 683h1v2h-1zM191 682h1v1h-1zM192 681h1v1h-1zM193 680h1v1h-1zM194 679h1v1h-1zM195 678h1v1h-1zM196 677h1v1h-1zM197 676h2v1h-2zM199 675h2v1h-2zM201 674h3v1h-3zM204 673h1v1h-1zM205 674h1v2h-1zM206 676h1v1h-1zM207 677h1v1h-1zM208 678h1v1h-1zM209 679h1v2h-1zM210 681h1v1h-1zM211 682h1v1h-1zM212 683h1v2h-1zM213 681h1v3h-1zM214 679h1v2h-1zM215 676h1v3h-1zM216 674h1v2h-1zM217 672h1v2h-1zM218 669h1v3h-1zM219 667h1v2h-1zM220 664h1v3h-1zM221 664h2v1h-2zM223 663h2v1h-2zM225 662h2v1h-2zM227 661h10v1h-10zM237 662h2v1h-2zM239 663h1v1h-1zM240 664h1v1h-1zM241 665h2v1h-2zM243 666h1v1h-1zM244 667h10v1h-10zM254 666h4v1h-4zM258 665h3v1h-3zM261 666h1v2h-1zM262 668h1v1h-1zM263 669h1v2h-1zM264 671h1v1h-1zM265 672h1v2h-1zM266 674h1v2h-1zM267 676h1v1h-1zM268 677h1v2h-1zM269 678h3v1h-3zM272 677h9v1h-9zM281 678h4v1h-4zM285 677h1v1h-1zM286 676h1v1h-1zM287 675h1v1h-1zM288 674h2v1h-2zM290 673h1v1h-1zM291 672h1v1h-1zM292 671h5v1h-5zM297 672h4v1h-4zM301 673h2v1h-2zM303 674h1v1h-1zM304 675h2v1h-2zM306 676h2v1h-2zM308 677h1v1h-1zM309 678h1v1h-1zM310 679h1v1h-1zM311 680h1v1h-1zM312 681h1v2h-1zM313 683h1v1h-1zM314 684h1v1h-1zM315 685h1v1h-1zM316 686h1v1h-1zM317 685h1v1h-1zM318 684h1v1h-1zM319 683h1v1h-1zM320 682h1v1h-1zM321 680h1v2h-1zM322 679h1v1h-1zM323 678h1v1h-1zM324 677h11v1h-11zM335 676h6v1h-6zM341 677h2v1h-2zM343 678h1v1h-1zM344 679h1v1h-1zM345 680h1v1h-1zM346 681h1v1h-1zM347 682h1v1h-1zM348 683h2v1h-2zM350 682h4v1h-4zM354 681h4v1h-4zM358 680h2v1h-2zM360 679h3v1h-3zM363 678h6v1h-6zM369 679h5v1h-5zM374 680h2v1h-2zM376 681h3v1h-3zM379 682h2v1h-2zM381 683h3v1h-3zM384 684h2v1h-2zM386 685h2v1h-2zM388 686h1v1h-1zM389 685h1v1h-1zM390 684h2v1h-2zM392 683h1v1h-1zM393 682h1v1h-1zM394 681h2v1h-2zM396 680h4v1h-4zM400 679h5v1h-5zM405 680h1v2h-1zM406 682h1v1h-1zM407 683h1v2h-1zM408 685h1v1h-1zM409 686h1v2h-1zM410 688h1v2h-1zM411 690h1v1h-1zM412 691h1v2h-1zM413 691h5v1h-5zM418 690h8v1h-8zM426 691h3v1h-3zM429 690h1v1h-1zM430 689h2v1h-2zM432 688h1v1h-1zM433 687h1v1h-1zM434 686h2v1h-2zM436 685h2v1h-2zM438 686h2v1h-2zM440 687h3v1h-3zM443 688h2v1h-2zM445 687h1v1h-1zM446 686h1v1h-1zM447 685h1v1h-1zM448 684h2v1h-2zM450 683h1v1h-1zM451 682h1v1h-1zM452 681h1v1h-1zM453 679h1v2h-1zM454 676h1v3h-1zM455 674h1v2h-1zM456 672h1v2h-1zM457 670h1v2h-1zM458 667h1v3h-1zM459 665h1v2h-1zM460 663h1v2h-1zM461 663h3v1h-3zM464 662h5v1h-5zM469 663h1v1h-1zM470 664h2v1h-2zM472 665h1v1h-1zM473 666h1v1h-1zM474 667h2v1h-2zM476 668h1v1h-1zM477 669h3v1h-3zM480 670h2v1h-2zM482 671h2v1h-2zM484 672h2v1h-2zM486 671h8v1h-8zM494 672h1v1h-1zM495 673h2v1h-2zM497 674h2v1h-2zM499 675h1v1h-1zM500 676h2v1h-2zM502 677h2v1h-2zM504 678h2v1h-2zM506 679h2v1h-2zM508 680h1v1h-1zM509 679h5v1h-5zM514 678h19v1h-19zM533 679h1v2h-1zM534 681h1v1h-1zM535 682h1v2h-1zM536 684h1v1h-1zM537 685h1v2h-1zM538 687h1v1h-1zM539 688h1v2h-1zM540 690h1v1h-1zM541 691h1v2h-1zM542 693h1v1h-1zM543 694h1v2h-1zM544 696h1v1h-1zM545 697h1v2h-1zM546 699h1v1h-1zM547 700h1v2h-1zM548 702h1v1h-1zM549 703h1v2h-1zM550 705h1v2h-1zM551 707h1v2h-1zM552 709h1v2h-1zM553 711h1v1h-1zM554 712h1v2h-1zM555 714h1v2h-1zM556 716h1v2h-1zM557 717h1v1h-1zM558 718h3v1h-3zM561 719h3v1h-3zM564 720h1v1h-1zM565 719h2v1h-2zM567 718h1v1h-1zM568 717h2v1h-2zM570 716h1v1h-1zM571 715h2v1h-2zM573 714h2v1h-2zM575 713h2v1h-2zM577 712h2v1h-2zM579 711h2v1h-2zM581 710h5v1h-5zM586 709h4v1h-4zM590 710h4v1h-4zM594 711h3v1h-3zM597 712h2v1h-2zM599 713h2v1h-2zM601 714h1v1h-1zM602 715h2v1h-2zM604 716h2v1h-2zM606 717h3v1h-3zM609 718h2v1h-2zM611 719h2v1h-2zM613 718h2v1h-2zM615 717h2v1h-2zM617 716h2v1h-2zM619 715h5v1h-5zM624 716h3v1h-3zM627 717h2v1h-2zM629 716h1v1h-1zM630 714h1v2h-1zM631 713h1v1h-1zM632 712h1v1h-1zM633 711h1v1h-1zM634 709h1v2h-1zM635 708h1v1h-1zM636 707h1v1h-1zM637 706h1v1h-1zM638 704h1v2h-1zM639 703h1v1h-1zM640 702h1v1h-1zM641 701h1v1h-1zM642 699h1v2h-1zM643 698h1v1h-1zM644 697h1v1h-1zM645 698h1v1h-1zM646 699h1v1h-1zM647 700h2v1h-2zM649 701h1v1h-1zM650 702h1v1h-1zM651 703h1v1h-1zM652 704h1v1h-1zM653 703h1v1h-1zM654 702h1v1h-1zM655 701h2v1h-2zM657 700h1v1h-1zM658 699h2v1h-2zM660 698h3v1h-3zM663 699h5v1h-5zM668 700h1v1h-1zM669 699h2v1h-2zM671 698h1v1h-1zM672 697h2v1h-2zM674 696h2v1h-2zM676 695h1v1h-1zM677 694h1v1h-1zM678 693h2v1h-2zM680 692h1v1h-1zM681 691h1v1h-1zM682 690h2v1h-2zM684 689h1v1h-1zM685 690h2v1h-2zM687 691h1v1h-1zM688 692h1v1h-1zM689 693h2v1h-2zM691 694h1v1h-1zM692 695h1v1h-1zM693 696h2v1h-2zM695 697h1v1h-1zM696 698h1v1h-1zM697 699h2v1h-2zM699 700h1v1h-1zM700 701h3v1h-3zM703 702h4v1h-4zM707 703h3v1h-3zM710 704h2v1h-2zM712 705h2v1h-2zM714 706h2v1h-2zM716 707h1v1h-1zM717 706h1v1h-1zM718 705h1v1h-1zM719 704h1v1h-1zM720 703h1v1h-1zM721 702h1v1h-1zM722 701h1v1h-1zM723 700h1v1h-1zM724 699h3v1h-3zM727 700h4v1h-4zM731 701h10v1h-10zM741 700h1v1h-1zM742 699h1v1h-1zM743 698h1v1h-1zM744 697h1v1h-1zM745 696h1v1h-1zM746 695h1v1h-1zM747 694h1v1h-1zM748 693h3v1h-3zM751 694h4v1h-4zM755 695h5v1h-5zM760 696h5v1h-5zM765 697h3v1h-3zM768 698h3v1h-3zM771 699h10v1h-10zM781 700h1v1h-1zM782 701h1v1h-1zM783 702h1v1h-1zM784 703h1v1h-1zM785 704h1v1h-1zM786 705h1v2h-1zM787 707h1v1h-1zM788 708h1v1h-1zM789 704h1v4h-1zM790 700h1v4h-1zM791 697h1v3h-1zM792 693h1v4h-1zM793 689h1v4h-1zM794 685h1v4h-1zM795 682h1v3h-1zM796 678h1v4h-1zM797 678h4v1h-4zM801 679h6v1h-6zM807 680h4v1h-4zM811 681h12v1h-12zM823 682h4v1h-4zM827 683h10v1h-10zM837 684h1v1h-1zM838 685h1v2h-1zM839 687h1v1h-1zM840 688h1v2h-1zM841 690h1v1h-1zM842 691h1v2h-1zM843 693h1v1h-1zM844 694h1v2h-1zM845 695h9v1h-9zM854 694h4v1h-4zM858 693h4v1h-4zM862 694h1v1h-1zM863 695h2v1h-2zM865 696h1v1h-1zM866 697h2v1h-2zM868 698h1v1h-1zM869 699h1v1h-1zM870 700h2v1h-2zM872 701h1v1h-1zM873 702h1v1h-1zM874 703h1v1h-1zM875 704h1v1h-1zM876 705h1v1h-1zM877 706h1v2h-1zM878 708h1v1h-1zM879 709h1v2h-1zM880 711h1v1h-1zM881 712h1v2h-1zM882 714h1v2h-1zM883 716h1v1h-1zM884 717h1v2h-1zM885 719h1v1h-1zM886 720h1v1h-1zM887 721h1v1h-1zM888 722h1v1h-1zM889 723h1v2h-1zM890 725h1v1h-1zM891 726h1v1h-1zM892 727h12v1h-12zM904 728h5v1h-5zM909 727h1v1h-1zM910 726h1v1h-1zM911 725h1v1h-1zM912 724h1v1h-1zM913 723h1v1h-1zM914 722h1v1h-1zM915 721h1v1h-1zM916 720h1v1h-1zM917 719h2v1h-2zM919 718h1v1h-1zM920 717h2v1h-2zM922 716h2v1h-2zM924 715h5v1h-5zM929 716h5v1h-5zM934 717h1v1h-1zM935 718h2v1h-2zM937 719h1v1h-1zM938 720h2v1h-2zM940 721h9v1h-9z" fill="#1e90ff"/>
</g>
<g class="ce">
<rect x="3" y="3" width="1202" height="1" fill="#000"/>
<rect x="3" y="459" width="1202" height="1" fill="#000"/>
<rect x="3" y="461" width="1202" height="1" fill="#000"/>
<rect x="3" y="618" width="1202" height="1" fill="#000"/>
<rect x="3" y="620" width="1202" height="1" fill="#000"/>
<rect x="3" y="758" width="1202" height="1" fill="#000"/>
<rect x="3" y="3" width="1" height="457" fill="#000"/>
<rect x="3" y="461" width="1" height="158" fill="#000"/>
<rect x="3" y="620" width="1" height="139" fill="#000"/>
<rect x="1204" y="3" width="1" height="457" fill="#000"/>
<rect x="1204" y="461" width="1" height="158" fill="#000"/>
<rect x="1204" y="620" width="1" height="139" fill="#000"/>
<rect x="1205" y="463" width="1" height="1" fill="#000"/>
<rect x="1205" y="617" width="1" height="1" fill="#000"/>
<rect x="1205" y="622" width="1" height="1" fill="#000"/>
<rect x="1205" y="757" width="1" height="1" fill="#000"/>
<rect x="958" y="4" width="9" height="1" fill="#c0c0c0"/>
<rect x="959" y="5" width="7" height="1" fill="#c0c0c0"/>
<rect x="960" y="6" width="5" height="1" fill="#c0c0c0"/>
<rect x="961" y="7" width="3" height="1" fill="#c0c0c0"/>
<rect x="962" y="8" width="1" height="1" fill="#c0c0c0"/>
<rect x="7" y="10" width="7" height="1" fill="#000"/>
<rect x="8" y="11" width="5" height="1" fill="#000"/>
<rect x="9" y="12" width="3" height="1" fill="#000"/>
<rect x="10" y="13" width="1" height="1" fill="#000"/>
<rect x="1205" y="27" width="2" height="1" fill="#000"/>
<rect x="1205" y="60" width="2" height="1" fill="#000"/>
<rect x="1205" y="93" width="2" height="1" fill="#000"/>
<rect x="1205" y="126" width="2" height="1" fill="#000"/>
<rect x="1205" y="159" width="2" height="1" fill="#000"/>
<rect x="1205" y="192" width="2" height="1" fill="#000"/>
<rect x="1205" y="225" width="2" height="1" fill="#000"/>
<rect x="1205" y="258" width="2" height="1" fill="#000"/>
<rect x="1205" y="291" width="2" height="1" fill="#000"/>
<rect x="1205" y="324" width="2" height="1" fill="#000"/>
<rect x="1205" y="357" width="2" height="1" fill="#000"/>
<rect x="1205" y="390" width="2" height="1" fill="#000"/>
<rect x="1205" y="423" width="2" height="1" fill="#000"/>
<rect x="1205" y="456" width="2" height="1" fill="#000"/>
<rect x="1205" y="521" width="2" height="1" fill="#000"/>
<rect x="4" y="759" width="1" height="3" fill="#000"/>
<rect x="68" y="759" width="1" height="3" fill="#000"/>
<rect x="132" y="759" width="1" height="3" fill="#000"/>
<rect x="196" y="759" width="1" height="3" fill="#000"/>
<rect x="260" y="759" width="1" height="3" fill="#000"/>
<rect x="324" y="759" width="1" height="3" fill="#000"/>
<rect x="388" y="759" width="1" height="3" fill="#000"/>
<rect x="452" y="759" width="1" height="3" fill="#000"/>
<rect x="516" y="759" width="1" height="3" fill="#000"/>
<rect x="580" y="759" width="1" height="3" fill="#000"/>
<rect x="644" y="759" width="1" height="3" fill="#000"/>
<rect x="708" y="759" width="1" height="3" fill="#000"/>
<rect x="772" y="759" width="1" height="3" fill="#000"/>
<rect x="836" y="759" width="1" height="3" fill="#000"/>
<rect x="900" y="759" width="1" height="3" fill="#000"/>
</g>
<g class="ce">
<rect x="1207" y="38" width="39" height="11" fill="#ff0000"/>
<rect x="1207" y="181" width="39" height="11" fill="#ff0000"/>
<rect x="1207" y="276" width="39" height="11" fill="#00d200"/>
<rect x="1207" y="406" width="39" height="11" fill="#000"/>
<rect x="1207" y="419" width="39" height="11" fill="#4159e6"/>
</g>
<g style="filter:grayscale(1)">
<text x="1210.7" y="31" textLength="31.6" lengthAdjust="spacingAndGlyphs" xml:space="preserve">1833.70</text>
<text x="1210.7" y="64" textLength="31.6" lengthAdjust="spacingAndGlyphs" xml:space="preserve">1826.70</text>
<text x="1210.7" y="97" textLength="31.6" lengthAdjust="spacingAndGlyphs" xml:space="preserve">1819.70</text>
<text x="1210.7" y="130" textLength="31.6" lengthAdjust="spacingAndGlyphs" xml:space="preserve">1812.90</text>
<text x="1210.7" y="163" textLength="31.6" lengthAdjust="spacingAndGlyphs" xml:space="preserve">1805.90</text>
<g clip-path="url(#c98)">
<text x="1210.7" y="196" textLength="31.6" lengthAdjust="spacingAndGlyphs" xml:space="preserve">1798.90</text>
</g>
<text x="1210.7" y="229" textLength="31.6" lengthAdjust="spacingAndGlyphs" xml:space="preserve">1792.10</text>
<text x="1210.7" y="262" textLength="31.6" lengthAdjust="spacingAndGlyphs" xml:space="preserve">1785.10</text>
<text x="1210.7" y="295" textLength="31.6" lengthAdjust="spacingAndGlyphs" xml:space="preserve">1778.10</text>
<text x="1210.7" y="328" textLength="31.6" lengthAdjust="spacingAndGlyphs" xml:space="preserve">1771.10</text>
<text x="1210.7" y="361" textLength="31.6" lengthAdjust="spacingAndGlyphs" xml:space="preserve">1764.30</text>
<text x="1210.7" y="394" textLength="31.6" lengthAdjust="spacingAndGlyphs" xml:space="preserve">1757.30</text>
<text x="1210.7" y="460" textLength="31.6" lengthAdjust="spacingAndGlyphs" xml:space="preserve">1743.50</text>
<text x="1210.7" y="47" textLength="31.6" lengthAdjust="spacingAndGlyphs" class="w" xml:space="preserve">1830.00</text>
<text x="1210.7" y="190" textLength="31.6" lengthAdjust="spacingAndGlyphs" class="w" xml:space="preserve">1800.00</text>
<text x="1210.7" y="285" textLength="31.6" lengthAdjust="spacingAndGlyphs" class="w" xml:space="preserve">1780.00</text>
<text x="1210.7" y="415" textLength="31.6" lengthAdjust="spacingAndGlyphs" class="w" xml:space="preserve">1752.81</text>
<text x="1210.7" y="428" textLength="31.6" lengthAdjust="spacingAndGlyphs" class="w" xml:space="preserve">1750.00</text>
<text x="1208" y="472" textLength="22.3" lengthAdjust="spacingAndGlyphs" xml:space="preserve">7.471</text>
<text x="1208" y="525" textLength="17.3" lengthAdjust="spacingAndGlyphs" xml:space="preserve">0.00</text>
<text x="1208" y="615" textLength="30.5" lengthAdjust="spacingAndGlyphs" xml:space="preserve">-12.417</text>
<text x="1208.5" y="631" textLength="13.8" lengthAdjust="spacingAndGlyphs" xml:space="preserve">100</text>
<text x="1207.4" y="666" textLength="8.8" lengthAdjust="spacingAndGlyphs" xml:space="preserve">70</text>
<text x="1207.2" y="721" textLength="8.8" lengthAdjust="spacingAndGlyphs" xml:space="preserve">30</text>
<text x="1208" y="755" textLength="4.2" lengthAdjust="spacingAndGlyphs" xml:space="preserve">0</text>
<text x="18.6" y="15" textLength="57.4" lengthAdjust="spacingAndGlyphs" xml:space="preserve">XAUUSD-,H4</text>
<text x="82.4" y="15" textLength="32" lengthAdjust="spacingAndGlyphs" xml:space="preserve">1752.51</text>
<text x="118.5" y="15" textLength="32" lengthAdjust="spacingAndGlyphs" xml:space="preserve">1754.32</text>
<text x="154.60000000000002" y="15" textLength="32" lengthAdjust="spacingAndGlyphs" xml:space="preserve">1749.99</text>
<text x="190.70000000000002" y="15" textLength="32" lengthAdjust="spacingAndGlyphs" xml:space="preserve">1752.81</text>
<text x="8" y="474" textLength="128.5" lengthAdjust="spacingAndGlyphs" xml:space="preserve">MACD(12,26,9) -11.513 -8.899</text>
<text x="8" y="633" textLength="67" lengthAdjust="spacingAndGlyphs" xml:space="preserve">RSI(14) 27.1945</text>
<text x="3" y="771" textLength="52" lengthAdjust="spacingAndGlyphs" xml:space="preserve">23 Aug 2021</text>
<text x="67" y="771" textLength="54.5" lengthAdjust="spacingAndGlyphs" xml:space="preserve">24 Aug 08:00</text>
<text x="131" y="771" textLength="54.5" lengthAdjust="spacingAndGlyphs" xml:space="preserve">25 Aug 16:00</text>
<text x="195" y="771" textLength="54.5" lengthAdjust="spacingAndGlyphs" xml:space="preserve">27 Aug 00:00</text>
<text x="259" y="771" textLength="54.5" lengthAdjust="spacingAndGlyphs" xml:space="preserve">30 Aug 08:00</text>
<text x="323" y="771" textLength="54.5" lengthAdjust="spacingAndGlyphs" xml:space="preserve">31 Aug 16:00</text>
<text x="387" y="771" textLength="49" lengthAdjust="spacingAndGlyphs" xml:space="preserve">2 Sep 00:00</text>
<text x="451" y="771" textLength="49" lengthAdjust="spacingAndGlyphs" xml:space="preserve">3 Sep 08:00</text>
<text x="515" y="771" textLength="49" lengthAdjust="spacingAndGlyphs" xml:space="preserve">6 Sep 16:00</text>
<text x="579" y="771" textLength="49" lengthAdjust="spacingAndGlyphs" xml:space="preserve">8 Sep 00:00</text>
<text x="643" y="771" textLength="49" lengthAdjust="spacingAndGlyphs" xml:space="preserve">9 Sep 08:00</text>
<text x="707" y="771" textLength="54.5" lengthAdjust="spacingAndGlyphs" xml:space="preserve">10 Sep 16:00</text>
<text x="771" y="771" textLength="54.5" lengthAdjust="spacingAndGlyphs" xml:space="preserve">14 Sep 00:00</text>
<text x="835" y="771" textLength="54.5" lengthAdjust="spacingAndGlyphs" xml:space="preserve">15 Sep 08:00</text>
<text x="899" y="771" textLength="54.5" lengthAdjust="spacingAndGlyphs" xml:space="preserve">16 Sep 16:00</text>
</g>
<g style="font-size:11px;stroke:none;filter:grayscale(1)">
<text x="17" y="792.2">USOIL-,H4</text><text x="85" y="792.2">|</text><text x="96" y="792.2">UKOIL-,H4</text>
<text x="176" y="792.2" font-weight="bold" textLength="74" lengthAdjust="spacingAndGlyphs">XAUUSD-,H4</text>
<text x="279" y="792.2">SP500-,H4</text><text x="351" y="792.2">|</text><text x="363" y="792.2" textLength="84" lengthAdjust="spacingAndGlyphs">CHINA300-,H4</text><text x="461" y="792.2">|</text>
</g>
</svg></body></html>
